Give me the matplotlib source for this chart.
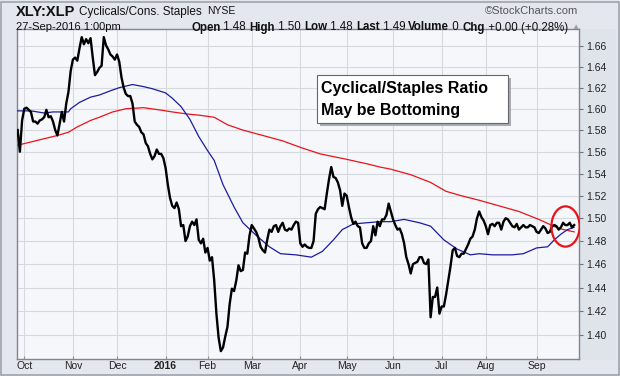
import numpy as np
import pandas as pd
import matplotlib
matplotlib.use("Agg")
import matplotlib.pyplot as plt
from matplotlib.patches import Rectangle
from matplotlib.markers import MarkerStyle
from matplotlib.transforms import Affine2D
from matplotlib.ticker import FixedLocator, FixedFormatter, NullLocator

plt.rcParams['font.family'] = ['Liberation Sans', 'DejaVu Sans']

# ---------------- data ----------------
start_date = "2015-09-28"
end_date = "2016-09-27"
market_holidays = ["2015-11-26", "2015-12-25", "2016-01-01", "2016-01-18",
                   "2016-02-15", "2016-03-25", "2016-05-30", "2016-07-04",
                   "2016-09-05"]

# daily close of XLY:XLP (one value per trading day)
ratio = [
    1.580, 1.560, 1.589, 1.600, 1.601, 1.599, 1.597, 1.588, 1.588, 1.586,
    1.589, 1.590, 1.592, 1.599, 1.592, 1.593, 1.588, 1.580, 1.575, 1.586,
    1.597, 1.588, 1.605, 1.616, 1.636, 1.647, 1.649, 1.646, 1.658, 1.669,
    1.662, 1.667, 1.663, 1.668, 1.649, 1.632, 1.635, 1.639, 1.641, 1.669,
    1.661, 1.657, 1.652, 1.650, 1.647, 1.652, 1.645, 1.630, 1.620, 1.614,
    1.612, 1.612, 1.605, 1.588, 1.585, 1.583, 1.578, 1.576, 1.568, 1.565,
    1.558, 1.553, 1.556, 1.562, 1.558, 1.558, 1.554, 1.545, 1.530, 1.518,
    1.511, 1.509, 1.514, 1.508, 1.493, 1.494, 1.480, 1.484, 1.493, 1.497,
    1.494, 1.499, 1.481, 1.478, 1.482, 1.470, 1.474, 1.463, 1.466, 1.446,
    1.418, 1.398, 1.387, 1.390, 1.399, 1.407, 1.426, 1.439, 1.437, 1.446,
    1.459, 1.454, 1.455, 1.470, 1.469, 1.485, 1.494, 1.491, 1.488, 1.483,
    1.475, 1.472, 1.470, 1.481, 1.490, 1.488, 1.493, 1.494, 1.488, 1.493,
    1.496, 1.490, 1.489, 1.491, 1.490, 1.494, 1.497, 1.496, 1.478, 1.475,
    1.477, 1.475, 1.474, 1.474, 1.480, 1.504, 1.508, 1.510, 1.509, 1.508,
    1.522, 1.535, 1.546, 1.537, 1.536, 1.532, 1.525, 1.511, 1.522, 1.520,
    1.510, 1.501, 1.495, 1.497, 1.493, 1.492, 1.478, 1.474, 1.474, 1.478,
    1.480, 1.493, 1.485, 1.497, 1.493, 1.499, 1.499, 1.503, 1.513, 1.506,
    1.499, 1.494, 1.490, 1.491, 1.486, 1.478, 1.466, 1.460, 1.452, 1.460,
    1.461, 1.462, 1.466, 1.466, 1.461, 1.460, 1.464, 1.415, 1.432, 1.432,
    1.440, 1.418, 1.424, 1.424, 1.434, 1.446, 1.458, 1.472, 1.474, 1.467,
    1.466, 1.469, 1.469, 1.473, 1.477, 1.482, 1.484, 1.490, 1.500, 1.506,
    1.501, 1.498, 1.493, 1.486, 1.494, 1.495, 1.493, 1.496, 1.496, 1.490,
    1.497, 1.500, 1.499, 1.496, 1.493, 1.492, 1.495, 1.490, 1.492, 1.494,
    1.492, 1.492, 1.494, 1.493, 1.492, 1.488, 1.487, 1.490, 1.493, 1.491,
    1.487, 1.488, 1.493, 1.494, 1.493, 1.490, 1.492, 1.496, 1.494, 1.494,
    1.496, 1.492, 1.494,
]

# 50-day moving average (blue), read at trading-day positions
ma50_days = [0, 6, 12, 16, 23, 24, 28, 33, 37, 42, 46, 52, 57, 61, 67, 70, 74,
             78, 82, 86, 89, 93, 98, 102, 108, 114, 119, 126, 133, 138, 143,
             147, 152, 158, 164, 169, 175, 182, 187, 193, 199, 205, 209, 215,
             220, 224, 229, 235, 240, 243, 246, 249, 252]
ma50_vals = [1.598, 1.598, 1.596, 1.597, 1.597, 1.600, 1.606, 1.611, 1.613,
             1.617, 1.620, 1.623, 1.621, 1.619, 1.615, 1.610, 1.602, 1.590,
             1.574, 1.561, 1.552, 1.530, 1.510, 1.496, 1.485, 1.475, 1.469,
             1.468, 1.466, 1.471, 1.481, 1.490, 1.495, 1.496, 1.497, 1.497,
             1.499, 1.496, 1.493, 1.481, 1.473, 1.468, 1.469, 1.468, 1.468,
             1.468, 1.469, 1.474, 1.475, 1.481, 1.486, 1.490, 1.492]

# 200-day moving average (red)
ma200_days = [0, 6, 12, 18, 23, 27, 33, 37, 43, 49, 57, 64, 70, 77, 82, 89,
              95, 102, 111, 120, 128, 137, 149, 158, 164, 169, 178, 187, 194,
              201, 209, 218, 227, 236, 245, 252]
ma200_vals = [1.566, 1.569, 1.572, 1.575, 1.578, 1.583, 1.589, 1.592, 1.597,
              1.600, 1.601, 1.599, 1.597, 1.595, 1.594, 1.592, 1.585, 1.580,
              1.575, 1.570, 1.564, 1.558, 1.553, 1.549, 1.546, 1.544, 1.539,
              1.532, 1.524, 1.520, 1.516, 1.511, 1.506, 1.499, 1.491, 1.488]

y_ticks = [1.40, 1.42, 1.44, 1.46, 1.48, 1.50, 1.52, 1.54, 1.56, 1.58, 1.60,
           1.62, 1.64, 1.66]

title_symbol = "XLY:XLP"
title_name = "Cyclicals/Cons. Staples"
title_exchange = "NYSE"
timestamp = "27-Sep-2016 1:00pm"
quote_parts = [("Open", True), (" 1.48 ", False), ("High", True), (" 1.50 ", False),
               ("Low", True), (" 1.48 ", False), ("Last", True), (" 1.49 ", False),
               ("Volume", True), (" 0 ", False), ("Chg", True),
               (" +0.00 (+0.28%) ", False)]
note_lines = ["Cyclical/Staples Ratio", "May be Bottoming"]

# ---------------- figure ----------------
W, H = 620, 376
fig = plt.figure(figsize=(W / 100, H / 100), dpi=100)
fig.patch.set_facecolor('#e4e7ed')

def fx(px):
    return px / W

def fy(py):
    return 1 - py / H

# outer border
fig.add_artist(Rectangle((fx(1), fy(375)), fx(618), 373 / H, transform=fig.transFigure,
                         facecolor='none', edgecolor='#9ea3ad', lw=1.2))
# right label strip
fig.add_artist(Rectangle((fx(579), fy(360)), fx(37), 331 / H, transform=fig.transFigure,
                         facecolor='#dfe3ea', edgecolor='none', zorder=0))

ax_l, ax_r, ax_t, ax_b = 16.7, 579, 29, 359
ax = fig.add_axes([fx(ax_l), fy(ax_b), fx(ax_r - ax_l), (ax_b - ax_t) / H])
ax.set_facecolor('#f6f7fb')

days = pd.bdate_range(start_date, end_date, freq='C', holidays=market_holidays)
n = min(len(days), len(ratio))
x = np.arange(n)

ax.plot(ma200_days, ma200_vals, color='#e8141b', lw=0.9, zorder=3)
ax.plot(ma50_days, ma50_vals, color='#1c1c9e', lw=0.9, zorder=3)
ax.plot(x, ratio[:n], color='black', lw=1.7, zorder=4, solid_joinstyle='round')

# circle marking the latest bars
ell = MarkerStyle('o', transform=Affine2D().scale(0.70, 1.0))
ax.plot([x[-1] - 4], [np.mean(ratio[n - 8:n])], marker=ell, ms=29,
        mfc='none', mec='#e8141b', mew=1.6, zorder=5)

ax.set_yscale('log')
ax.set_ylim(1.3806, 1.677)
ax.set_xlim(-0.44, 254.2)

ax.yaxis.tick_right()
ax.yaxis.set_major_locator(FixedLocator(y_ticks))
ax.yaxis.set_major_formatter(FixedFormatter([f"{v:.2f}" for v in y_ticks]))
ax.yaxis.set_minor_locator(NullLocator())

month_pos, month_lab = [], []
for i in range(1, n):
    if days[i].month != days[i - 1].month:
        month_pos.append(i)
        month_lab.append(str(days[i].year) if days[i].month == 1 else days[i].strftime('%b'))
ax.set_xticks(month_pos)
ax.set_xticklabels(month_lab)
ax.xaxis.set_minor_locator(NullLocator())
for lbl in ax.get_xticklabels():
    if lbl.get_text().isdigit():
        lbl.set_fontweight('bold')

ax.tick_params(axis='x', length=2, width=0.8, direction='in', color='#8a8f99',
               labelsize=7.5, labelcolor='#222222', pad=1.5)
ax.tick_params(axis='y', length=3, width=0.8, color='#6e737c', labelsize=7.5,
               labelcolor='#222222', pad=2)
ax.grid(True, which='major', color='#d6d9e0', lw=0.8)
ax.set_axisbelow(True)
for s in ax.spines.values():
    s.set_color('#80858f')
    s.set_linewidth(1.0)

# ---------------- header ----------------
fig.canvas.draw()
renderer = fig.canvas.get_renderer()

def run_text(start_px, y_px, parts, size):
    cur = start_px
    for txt, weight, fs, gap in parts:
        t = fig.text(fx(cur), fy(y_px), txt, fontsize=fs, fontweight=weight,
                     va='center', ha='left', color='#111111')
        cur += t.get_window_extent(renderer).width + gap
    return cur

run_text(15.8, 11.5, [(title_symbol, 'bold', 10.5, 4),
                      (title_name, 'normal', 8.5, 5),
                      (title_exchange, 'normal', 7.5, 0)], None)

fig.text(fx(578), fy(11.5), "\u00a9StockCharts.com", fontsize=8, va='center',
         ha='right', color='#555555')
fig.text(fx(15.8), fy(27.5), timestamp, fontsize=8, va='center', ha='left',
         color='#111111')

# quote line, right-aligned so that the triangle ends near the right edge
q_fs = 8.3
probe = [fig.text(0, 0, txt, fontsize=q_fs, fontweight='bold' if b else 'normal')
         for txt, b in quote_parts]
total = sum(p.get_window_extent(renderer).width for p in probe)
for p in probe:
    p.remove()
end = run_text(571 - total, 27.5,
               [(txt, 'bold' if b else 'normal', q_fs, 0) for txt, b in quote_parts], None)
fig.text(fx(end), fy(27.5), "\u25b2", fontsize=6, va='center', ha='left',
         color='#9aa0aa')

# ---------------- note box ----------------
bx0, by0, bx1, by1 = 317.3, 75, 508, 123
fig.add_artist(Rectangle((fx(bx0 + 3), fy(by1 + 3)), fx(bx1 - bx0), (by1 - by0) / H,
                         transform=fig.transFigure, facecolor='#a9acb3',
                         edgecolor='none', zorder=6))
fig.add_artist(Rectangle((fx(bx0), fy(by1)), fx(bx1 - bx0), (by1 - by0) / H,
                         transform=fig.transFigure, facecolor='white',
                         edgecolor='#666666', lw=0.8, zorder=7))
fig.text(fx(321), fy(88.5), note_lines[0], fontsize=11.5, fontweight='bold',
         va='center', ha='left', color='black', zorder=8)
fig.text(fx(321), fy(110), note_lines[1], fontsize=11.5, fontweight='bold',
         va='center', ha='left', color='black', zorder=8)

fig.savefig("out.png", dpi=100, facecolor=fig.get_facecolor())
